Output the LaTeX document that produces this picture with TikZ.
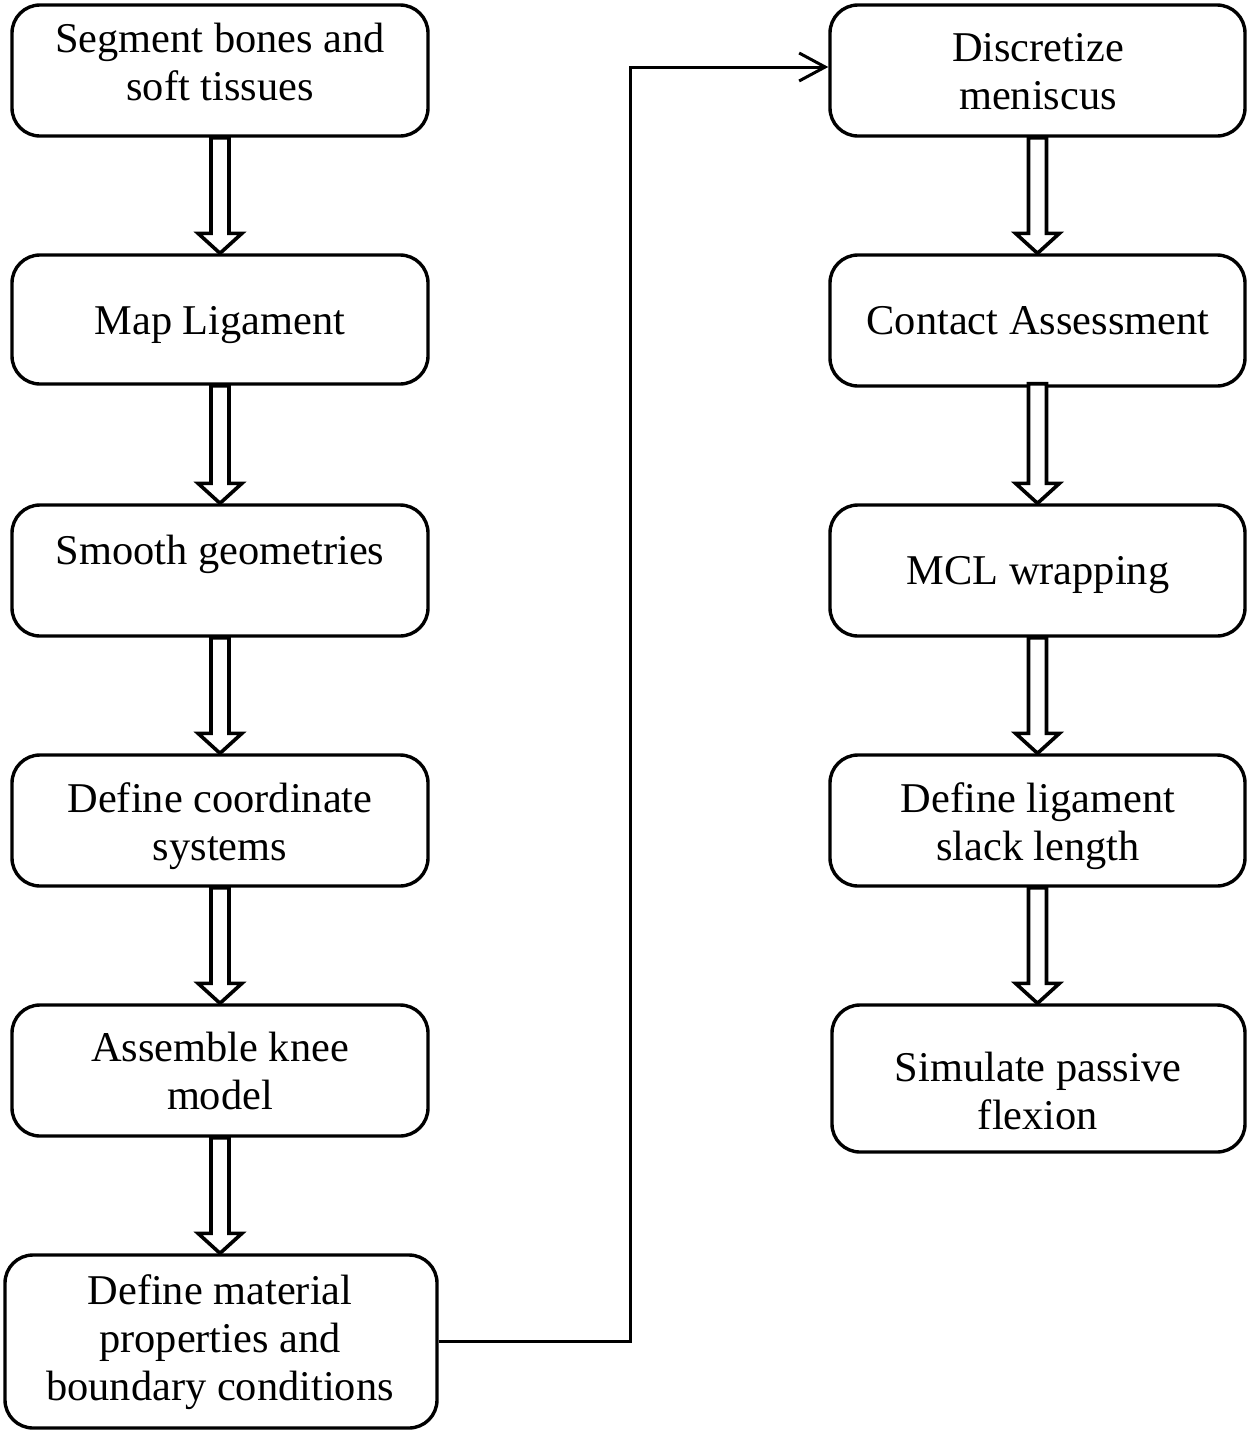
\documentclass[tikz,border=0pt]{standalone}
\usepackage{fontspec}
\setmainfont{Liberation Serif}
\usetikzlibrary{calc,arrows.meta}
\newcommand\blkarrow[3][0]{%
  \draw[blk] let \p1=($(#2.south)+(0,#1)$), \p2=(#3.north) in
    (\x1-4.5pt,\y1) -- (\x1-4.5pt,\y2+10pt) -- (\x1-11pt,\y2+10pt) -- (\x1,\y2)
    -- (\x1+11pt,\y2+10pt) -- (\x1+4.5pt,\y2+10pt) -- (\x1+4.5pt,\y1) -- cycle;}
\begin{document}
\begin{tikzpicture}[x=0.5pt,y=-0.5pt,
  box/.style={draw, line width=1.7pt, rounded corners=14pt, inner sep=0pt, fill=white},
  txt/.style={align=center, inner sep=0pt, font=\fontsize{21.2pt}{24pt}\selectfont,
    execute at begin node=\strut, execute at end node=\strut},
  blk/.style={draw, line width=1.8pt, fill=white, line join=miter},
  conn/.style={draw, line width=1.5pt, -{Straight Barb[length=13pt,width=14pt,line width=1.5pt]}}]
\useasboundingbox (0,0) rectangle (1248,1431);
% left column boxes
\node[box, minimum width=208pt, minimum height=65.5pt] (L1) at (220,70.5) {};
\node[box, minimum width=208pt, minimum height=64.5pt] (L2) at (220,319.5) {};
\node[box, minimum width=208pt, minimum height=65.5pt] (L3) at (220,570.5) {};
\node[box, minimum width=208pt, minimum height=65.5pt] (L4) at (220,820.5) {};
\node[box, minimum width=208pt, minimum height=65.5pt] (L5) at (220,1070.5) {};
\node[box, minimum width=216pt, minimum height=86.5pt] (L6) at (221,1341.5) {};
% right column boxes
\node[box, minimum width=207.5pt, minimum height=65.5pt] (R1) at (1037.5,70.5) {};
\node[box, minimum width=207.5pt, minimum height=65.5pt] (R2) at (1037.5,320.5) {};
\node[box, minimum width=207.5pt, minimum height=65.5pt] (R3) at (1037.5,570.5) {};
\node[box, minimum width=207.5pt, minimum height=65.5pt] (R4) at (1037.5,820.5) {};
\node[box, minimum width=206.5pt, minimum height=73.5pt] (R5) at (1038.5,1078.5) {};
% texts
\node[txt] (tL1) at (220,69) {Segment bones and\\soft tissues};
\node[txt] (tL2) at (220,325) {Map Ligament};
\node[txt] (tL3) at (220,555) {Smooth geometries};
\node[txt] (tL4) at (220,829) {Define coordinate\\systems};
\node[txt] (tL5) at (220,1078) {Assemble knee\\model};
\node[txt] (tL6) at (220,1345) {Define material\\properties and\\boundary conditions};
\node[txt] (tR1) at (1038,79) {Discretize\\meniscus};
\node[txt] (tR2) at (1038,325) {Contact Assessment};
\node[txt] (tR3) at (1038,575) {MCL wrapping};
\node[txt] (tR4) at (1038,829) {Define ligament\\slack length};
\node[txt] (tR5) at (1038,1098) {Simulate passive\\flexion};
% block arrows
\blkarrow{L1}{L2}
\blkarrow{L2}{L3}
\blkarrow{L3}{L4}
\blkarrow{L4}{L5}
\blkarrow{L5}{L6}
\blkarrow{R1}{R2}
\blkarrow[-4]{R2}{R3}
\blkarrow{R3}{R4}
\blkarrow{R4}{R5}
% connector
\coordinate (mid) at (630,0);
\coordinate (rin) at ($(R1.west)+(0,-3.5)$);
\draw[conn] (L6.east) -- (L6.east -| mid) -- (mid |- rin) -- (rin);
\end{tikzpicture}
\end{document}
